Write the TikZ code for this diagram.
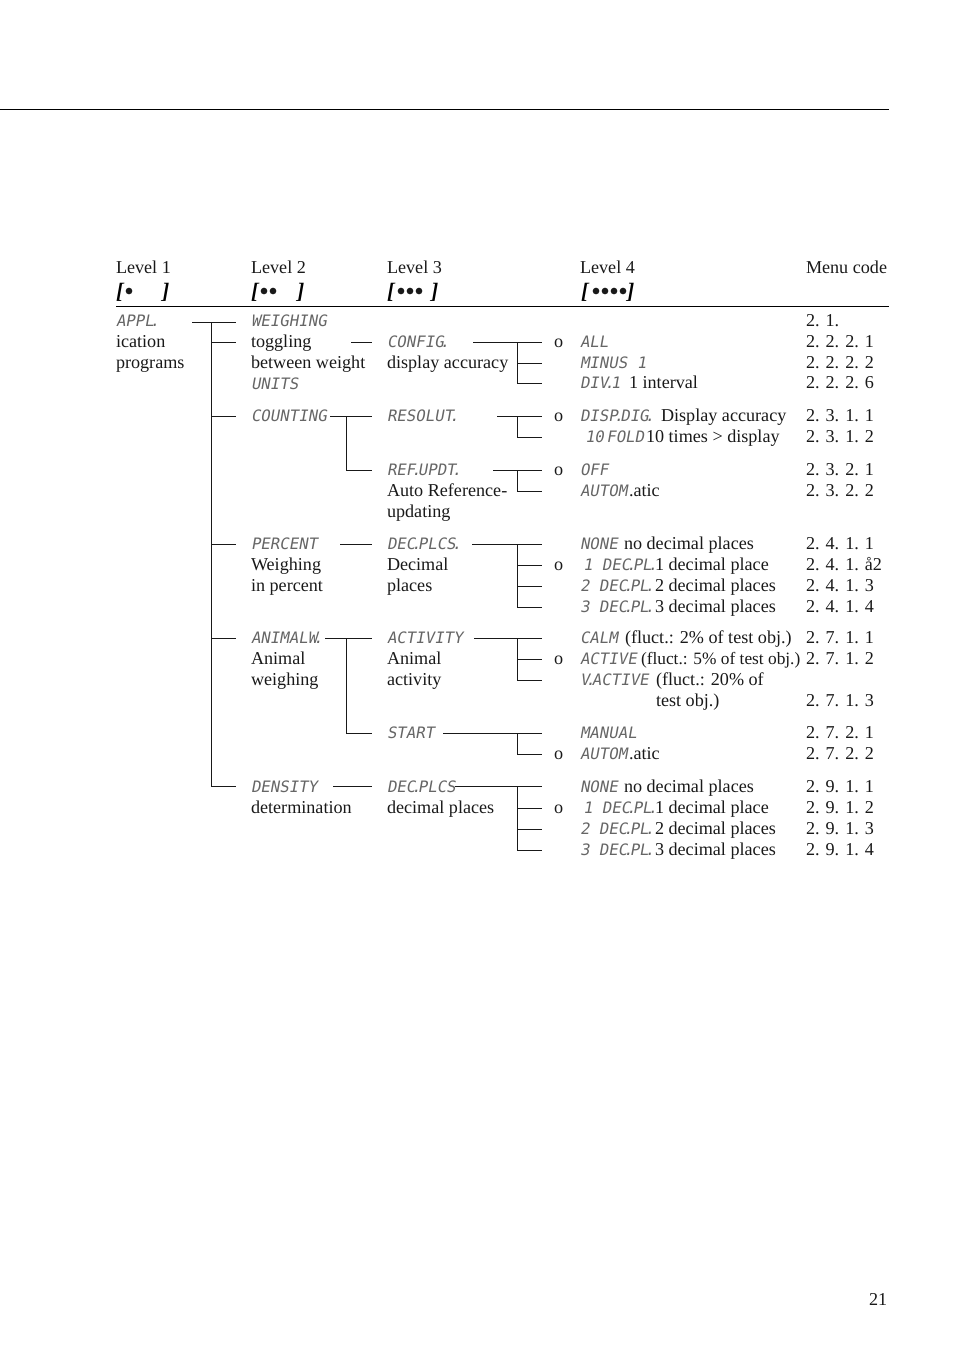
\documentclass[tikz,border=0pt]{standalone}
\usepackage{fontspec}
\setmainfont{Liberation Serif}
\newfontfamily\lcdfam[FakeSlant=0.18]{DejaVu Sans Mono}
\newcommand\mainf{\fontsize{13.6}{16}\selectfont}
\newcommand\lcdf{\lcdfam\fontsize{11.8}{14}\selectfont}
\newcommand\pd{\kern-0.25em.\kern-0.2em}
\begin{document}
\begin{tikzpicture}[x=0.75pt,y=-0.75pt,
  every node/.style={inner sep=0pt,outer sep=0pt},
  t/.style={anchor=base west,font=\mainf,text=black!90},
  l/.style={anchor=base west,font=\lcdf,text=black!60},
  br/.style={anchor=base west,font=\fontsize{16.5}{18}\selectfont\bfseries\itshape},
  ln/.style={line width=0.65pt,black!90},
  dot/.style={black!90}]
\useasboundingbox (0,0) rectangle (954,1354);

% rules
\coordinate (r1a) at (0,109); \coordinate (r1b) at (889,109);
\draw[line width=0.7pt] (r1a) -- (r1b);
\coordinate (r2a) at (116,306); \coordinate (r2b) at (889,306);
\draw[line width=0.7pt] (r2a) -- (r2b);

% headers
\node[t] (h1) at (116,273) {Level 1};
\node[t] (h2) at (251,273) {Level 2};
\node[t] (h3) at (387,273) {Level 3};
\node[t] (h4) at (580,273) {Level 4};
\node[t] (h5) at (806,273) {Menu code};

% brackets
\node[br] (b1l) at (116,298) {[}; \node[br] (b1r) at (162,298) {]};
\node[br] (b2l) at (251,298) {[}; \node[br] (b2r) at (297,298) {]};
\node[br] (b3l) at (387,298) {[}; \node[br] (b3r) at (431,298) {]};
\node[br] (b4l) at (581,298) {[}; \node[br] (b4r) at (627,298) {]};
\foreach \bx in {129, 264,273, 401,410,419, 596,605,614,623}
  \fill[dot] (\bx,291) circle (2.5pt);

% Level 1
\node[l] (appl) at (116,326) {APPL\pd};
\node[t] (ication) at (116,347) {ication};
\node[t] (programs) at (116,368) {programs};

% Level 2
\node[l] (weighing) at (251,326) {WEIGHING};
\node[t] (toggling) at (251,347) {toggling};
\node[t] (between) at (251,368) {between weight};
\node[l] (units) at (251,389) {UNITS};
\node[l] (counting) at (251,421) {COUNTING};
\node[l] (percent) at (251,549) {PERCENT};
\node[t] (weighingp) at (251,570) {Weighing};
\node[t] (inpercent) at (251,591) {in percent};
\node[l] (animalw) at (251,643) {ANIMALW\pd};
\node[t] (animal2) at (251,664) {Animal};
\node[t] (weighing2) at (251,685) {weighing};
\node[l] (density) at (251,792) {DENSITY};
\node[t] (determ) at (251,813) {determination};

% Level 3
\node[l] (config) at (387,347) {CONFIG\pd};
\node[t] (dispacc) at (387,368) {display accuracy};
\node[l] (resolut) at (387,421) {RESOLUT\pd};
\node[l] (refupdt) at (387,475) {REF\pd UPDT\pd};
\node[t] (autoref) at (387,496) {Auto Reference-};
\node[t] (updating) at (387,517) {updating};
\node[l] (decplcs) at (387,549) {DEC\pd PLCS\pd};
\node[t] (decimal) at (387,570) {Decimal};
\node[t] (places) at (387,591) {places};
\node[l] (activity) at (387,643) {ACTIVITY};
\node[t] (animal3) at (387,664) {Animal};
\node[t] (activity2) at (387,685) {activity};
\node[l] (start) at (387,738) {START};
\node[l] (decplcs2) at (387,792) {DEC\pd PLCS};
\node[t] (decplaces) at (387,813) {decimal places};

% o markers
\foreach \oy/\on in {347/o1, 421/o2, 475/o3, 570/o4, 664/o5, 759/o6, 813/o7}
  \node[t] (\on) at (554,\oy) {o};

% Level 4
\node[l] (all) at (580,347) {ALL};
\node[l] (minus) at (580,368) {MINUS 1};
\node[l] (div) at (580,388) {DIV\pd 1};
\node[t] (divt) at (629,388) {1 interval};
\node[l] (dispdig) at (580,421) {DISP\pd DIG\pd};
\node[t] (dispdigt) at (661,421) {Display accuracy};
\node[l] (tenfold) at (585,442) {10\kern0.15em FOLD};
\node[t] (tenfoldt) at (646,442) {10 times > display};
\node[l] (off) at (580,475) {OFF};
\node[l] (autom1) at (580,496) {AUTOM};
\node[t] (autom1t) at (629,496) {.atic};

\node[l] (none1) at (580,549) {NONE};
\node[t] (none1t) at (624,549) {no decimal places};
\node[l] (dp11) at (583,570) {1 DEC\pd PL\pd};
\node[t] (dp11t) at (655,570) {1 decimal place};
\node[l] (dp12) at (580,591) {2 DEC\pd PL\pd};
\node[t] (dp12t) at (655,591) {2 decimal places};
\node[l] (dp13) at (580,612) {3 DEC\pd PL\pd};
\node[t] (dp13t) at (655,612) {3 decimal places};

\node[l] (calm) at (580,643) {CALM};
\node[t] (calmt) at (625,643) {(fluct.: 2\% of test obj.)};
\node[l] (active) at (580,664) {ACTIVE};
\node[t,font=\fontsize{13}{16}\selectfont] (activet) at (641,664) {(fluct.: 5\% of test obj.)};
\node[l] (vactive) at (580,685) {V\pd ACTIVE};
\node[t] (vactivet) at (656,685) {(fluct.: 20\% of};
\node[t] (vactivet2) at (656,706) {test obj.)};

\node[l] (manual) at (580,738) {MANUAL};
\node[l] (autom2) at (580,759) {AUTOM};
\node[t] (autom2t) at (629,759) {.atic};

\node[l] (none2) at (580,792) {NONE};
\node[t] (none2t) at (624,792) {no decimal places};
\node[l] (dp21) at (583,813) {1 DEC\pd PL\pd};
\node[t] (dp21t) at (655,813) {1 decimal place};
\node[l] (dp22) at (580,834) {2 DEC\pd PL\pd};
\node[t] (dp22t) at (655,834) {2 decimal places};
\node[l] (dp23) at (580,855) {3 DEC\pd PL\pd};
\node[t] (dp23t) at (655,855) {3 decimal places};

% menu codes
\foreach \cy/\cn/\ct in {326/c0/{2. 1.}, 347/c1/{2. 2. 2. 1}, 368/c2/{2. 2. 2. 2}, 388/c3/{2. 2. 2. 6},
  421/c4/{2. 3. 1. 1}, 442/c5/{2. 3. 1. 2}, 475/c6/{2. 3. 2. 1}, 496/c7/{2. 3. 2. 2},
  549/c8/{2. 4. 1. 1}, 570/c9/{2. 4. 1. å2}, 591/c10/{2. 4. 1. 3}, 612/c11/{2. 4. 1. 4},
  643/c12/{2. 7. 1. 1}, 664/c13/{2. 7. 1. 2}, 706/c14/{2. 7. 1. 3},
  738/c15/{2. 7. 2. 1}, 759/c16/{2. 7. 2. 2},
  792/c17/{2. 9. 1. 1}, 813/c18/{2. 9. 1. 2}, 834/c19/{2. 9. 1. 3}, 855/c20/{2. 9. 1. 4}}
  \node[t] (\cn) at (806,\cy) {\ct};

% page number
\node[t] (page) at (869,1305) {21};

% ---- tree: level 1 -> 2
\coordinate (t1s) at (192,322);
\coordinate (t1top) at (211,322);
\coordinate (t1bot) at (211,786);
\draw[ln] (t1s) -- (236,322);
\draw[ln] (t1top) -- (t1bot) -- (236,786);
\foreach \yy in {342,416,544,638}
  \draw[ln] (211,\yy) -- (236,\yy);

% ---- level 2 -> 3
\draw[ln] (351,342) -- (372,342);
\draw[ln] (330,416) -- (372,416);
\draw[ln] (346,416) -- (346,470) -- (372,470);
\draw[ln] (340,544) -- (372,544);
\draw[ln] (325,638) -- (372,638);
\draw[ln] (346,638) -- (346,733) -- (372,733);
\draw[ln] (333,786) -- (372,786);

% ---- level 3 -> 4
\draw[ln] (473,342) -- (542,342);
\draw[ln] (517,342) -- (517,383) -- (542,383);
\draw[ln] (517,363) -- (542,363);

\draw[ln] (497,416) -- (542,416);
\draw[ln] (517,416) -- (517,437) -- (542,437);

\draw[ln] (493,470) -- (542,470);
\draw[ln] (517,470) -- (517,491) -- (542,491);

\draw[ln] (472,544) -- (542,544);
\draw[ln] (517,544) -- (517,607) -- (542,607);
\draw[ln] (517,565) -- (542,565);
\draw[ln] (517,586) -- (542,586);

\draw[ln] (474,638) -- (542,638);
\draw[ln] (517,638) -- (517,680) -- (542,680);
\draw[ln] (517,659) -- (542,659);

\draw[ln] (443,733) -- (542,733);
\draw[ln] (517,733) -- (517,754) -- (542,754);

\draw[ln] (455,786) -- (542,786);
\draw[ln] (517,786) -- (517,850) -- (542,850);
\draw[ln] (517,808) -- (542,808);
\draw[ln] (517,829) -- (542,829);
\end{tikzpicture}
\end{document}
